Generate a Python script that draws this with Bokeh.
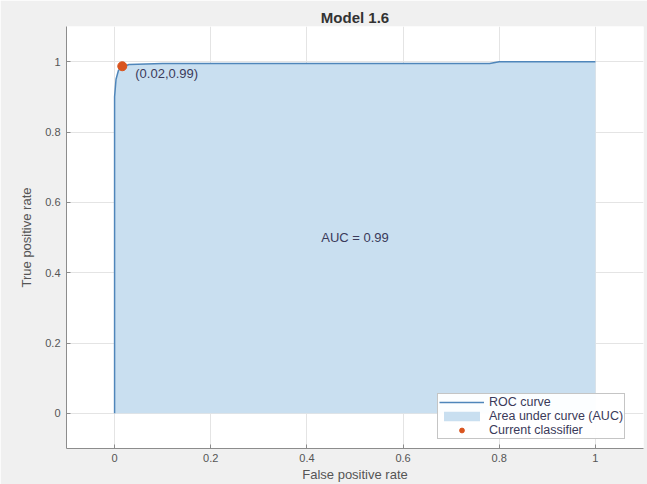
from bokeh.plotting import figure
from bokeh.models import FixedTicker, Legend, LegendItem, Label
from bokeh.embed import file_html
from bokeh.resources import INLINE

# ROC data
fpr = [0.0, 0.0, 0.003, 0.008, 0.015, 0.03, 0.1, 0.3, 0.5, 0.7, 0.78, 0.8, 1.0]
tpr = [0.0, 0.90, 0.95, 0.975, 0.985, 0.992, 0.995, 0.995, 0.995, 0.995, 0.995, 1.0, 1.0]
current_fpr = [0.016]
current_tpr = [0.987]
current_label = ["(0.02,0.99)"]
auc_text = "AUC = 0.99"
title_text = "Model 1.6"
tick_values = [0, 0.2, 0.4, 0.6, 0.8, 1]
tick_labels = ["0", "0.2", "0.4", "0.6", "0.8", "1"]

FONT = "Liberation Sans"

p = figure(width=647, height=484, x_range=(-0.1, 1.1), y_range=(-0.1, 1.1),
           output_backend="svg", toolbar_location=None,
           min_border_left=66, min_border_right=4, min_border_top=26, min_border_bottom=35)
p.background_fill_color = "white"
p.border_fill_color = "#f0f0f0"
p.outline_line_color = None

p.title.text = title_text
p.title.align = "center"
p.title.text_font = FONT
p.title.text_font_size = "15px"
p.title.text_font_style = "bold"
p.title.text_color = "#333333"
p.title.offset = 0
p.title.standoff = 2

area = p.varea(x=fpr, y1=[0] * len(fpr), y2=tpr, fill_color="#c9dff0", fill_alpha=1.0)
line = p.line(fpr, tpr, line_color="#4f86ba", line_width=1.5)
dot = p.scatter(current_fpr, current_tpr, size=9, fill_color="#d9541e", line_color="#d9541e")

p.text(x=[c + 0.027 for c in current_fpr], y=[t - 0.022 for t in current_tpr], text=current_label,
       text_font_size="13px", text_color="#3a3a5a", text_baseline="middle", text_align="left",
       text_font={"value": FONT})

p.add_layout(Label(x=0.5, y=0.5, text=auc_text, text_align="center", text_baseline="middle",
                   text_font_size="13px", text_color="#3a3a5a", text_font=FONT))

for ax in (p.xaxis[0], p.yaxis[0]):
    ax.ticker = FixedTicker(ticks=tick_values)
    ax.major_label_overrides = dict(zip(tick_values, tick_labels))
    ax.major_tick_in = 4
    ax.major_tick_out = 0
    ax.minor_tick_in = 0
    ax.minor_tick_out = 0
    ax.axis_line_color = "#8c8c8c"
    ax.major_tick_line_color = "#8c8c8c"
    ax.major_label_text_font = FONT
    ax.major_label_text_font_size = "11px"
    ax.major_label_text_color = "#555555"
    ax.axis_label_text_font = FONT
    ax.axis_label_text_font_size = "13px"
    ax.axis_label_text_font_style = "normal"
    ax.axis_label_text_color = "#555555"

p.xaxis.axis_label = "False positive rate"
p.yaxis.axis_label = "True positive rate"
p.xaxis.major_label_standoff = 5
p.yaxis.major_label_standoff = 6
p.xaxis.axis_label_standoff = 2
p.yaxis.axis_label_standoff = 8

p.xgrid.ticker = FixedTicker(ticks=tick_values)
p.ygrid.ticker = FixedTicker(ticks=tick_values)
p.grid.grid_line_color = "#e4e4e4"

legend = Legend(items=[
    LegendItem(label="ROC curve", renderers=[line]),
    LegendItem(label="Area under curve (AUC)", renderers=[area]),
    LegendItem(label="Current classifier", renderers=[dot]),
], location=(371, 9))
legend.label_text_font = FONT
legend.label_text_font_size = "12.5px"
legend.label_text_color = "#3a3a5a"
legend.glyph_width = 45
legend.glyph_height = 12
legend.label_height = 12
legend.label_standoff = 5
legend.spacing = 0
legend.padding = 1
legend.margin = 0
legend.border_line_color = "#8c8c8c"
legend.background_fill_color = "white"
p.add_layout(legend, "center")

open("out.html", "w").write(file_html(p, INLINE))
